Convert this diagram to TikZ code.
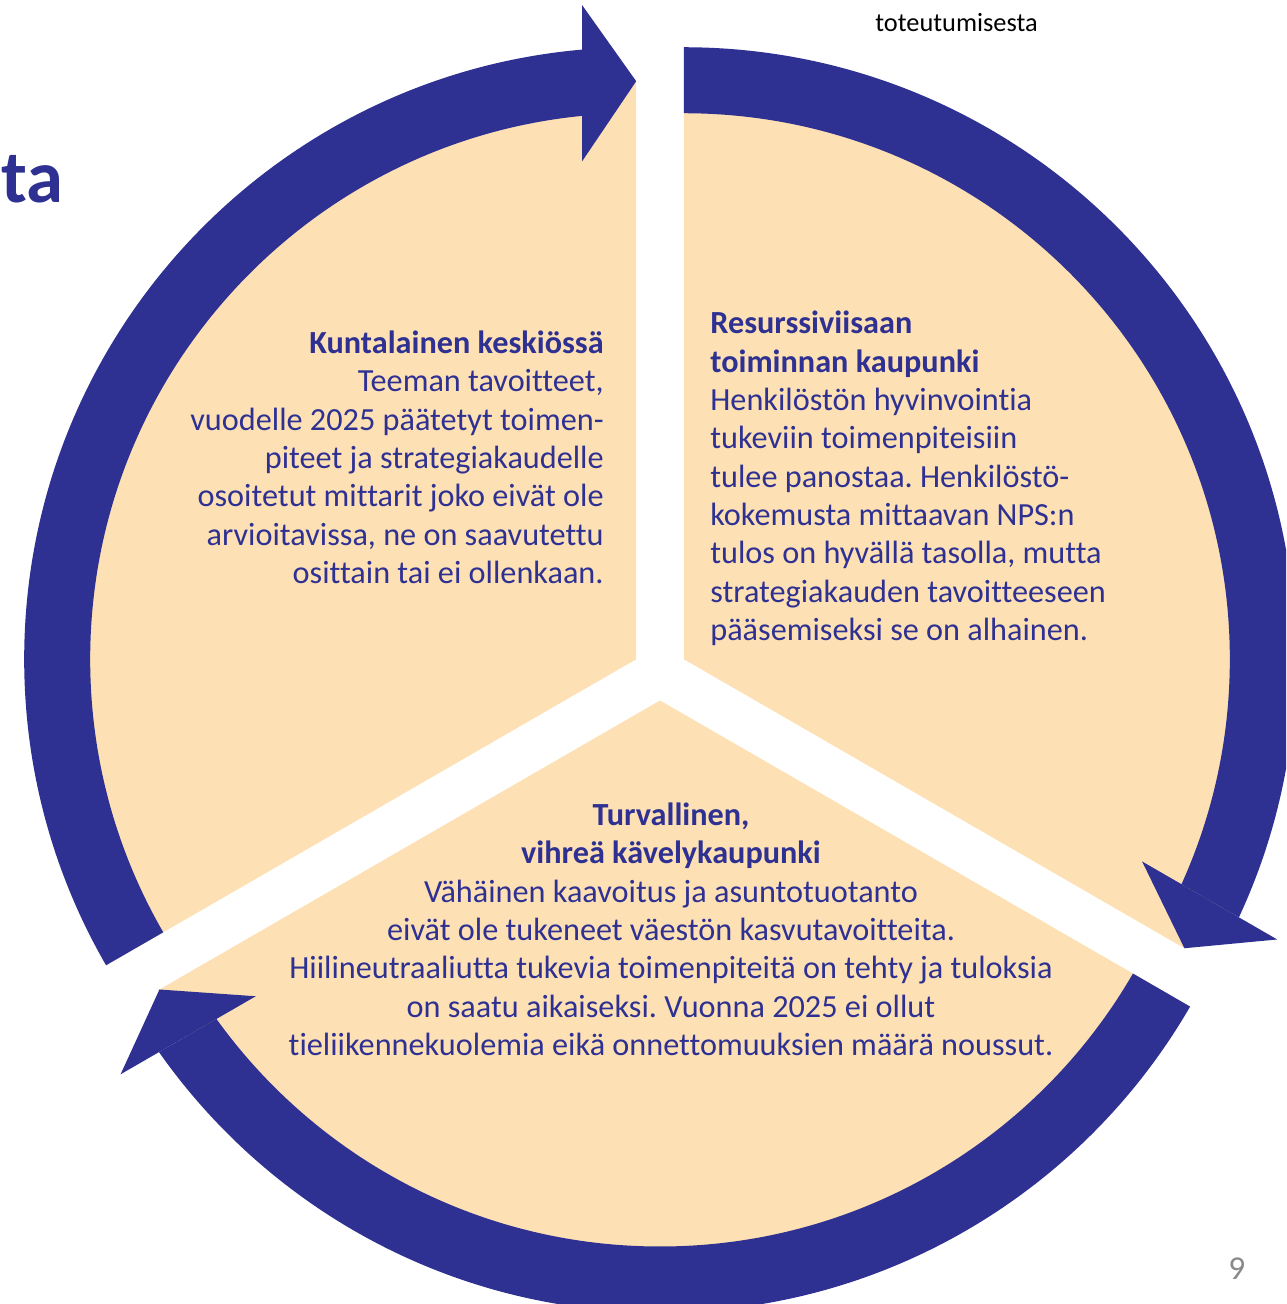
\documentclass[tikz,border=0pt]{standalone}
\usepackage{fontspec}
\setmainfont{Carlito}[Ligatures=CommonOff]
\definecolor{ringblue}{RGB}{46,49,146}
\definecolor{peach}{RGB}{253,224,180}
\definecolor{txtblue}{RGB}{46,49,146}
\definecolor{pagegray}{RGB}{137,137,137}
\frenchspacing
\begin{document}
\frenchspacing
\begin{tikzpicture}[x=0.02cm,y=0.02cm,
  body/.style={font=\fontsize{18.35}{21.83}\selectfont\frenchspacing, text=txtblue, inner sep=0pt},
  sectorframe/.style={shift={(660,631)}, shift={(#1:27.5)}},
]
\useasboundingbox (0,0) rectangle (1286,1304);
\clip (0,0) rectangle (1286,1304);
% exploded pie: three sectors
\foreach \b in {150,30,270} {
  \begin{scope}[sectorframe=\b]
    \fill[peach] (0,0) -- ({\b-60}:579) arc[start angle={\b-60}, end angle={\b+60}, radius=579] -- cycle;
  \end{scope}
}
% circular arrows, one per sector (clockwise)
\foreach \b in {150,30,270} {
  \begin{scope}[sectorframe=\b]
    \begin{scope}
      \clip[rotate={\b+60}] (-2000,0) rectangle (2000,-2000);
      \clip[rotate={\b-60}] (-2000,54) rectangle (2000,2000);
      \fill[ringblue, even odd rule] (0,0) circle (612) (0,0) circle (546);
    \end{scope}
    \fill[ringblue, rotate={\b-60}] (578,0) -- (498,54) -- (654,54) -- cycle;
  \end{scope}
}
% texts
\node[body, anchor=base east, align=right] (kunta) at (604,720.5)
  {\textbf{Kuntalainen keskiössä}\\Teeman tavoitteet,\\vuodelle 2025 päätetyt toimen-\\piteet ja strategiakaudelle\\osoitetut mittarit joko eivät ole\\arvioitavissa, ne on saavutettu\\osittain tai ei ollenkaan.};
\node[body, anchor=base west, align=left] (resurssi) at (710,663.5)
  {\textbf{Resurssiviisaan}\\\textbf{toiminnan kaupunki}\\Henkilöstön hyvinvointia\\tukeviin toimenpiteisiin\\tulee panostaa. Henkilöstö-\\kokemusta mittaavan NPS:n\\tulos on hyvällä tasolla, mutta\\strategiakauden tavoitteeseen\\pääsemiseksi se on alhainen.};
\node[body, anchor=base, align=center] (turva) at (671,248.5)
  {\textbf{Turvallinen,}\\\textbf{vihreä kävelykaupunki}\\Vähäinen kaavoitus ja asuntotuotanto\\eivät ole tukeneet väestön kasvutavoitteita.\\Hiilineutraaliutta tukevia toimenpiteitä on tehty ja tuloksia\\on saatu aikaiseksi. Vuonna 2025 ei ollut\\tieliikennekuolemia eikä onnettomuuksien määrä noussut.};
\node[font=\fontsize{42.5}{50}\selectfont\bfseries, text=txtblue, inner sep=0pt, anchor=base east] (title) at (64,1101) {ta};
\node[font=\fontsize{15}{18}\selectfont, text=black, inner sep=0pt, anchor=base west] (toteut) at (875,1272.3) {toteutumisesta};
\node[font=\fontsize{19}{22}\selectfont, text=pagegray, inner sep=0pt, anchor=base west] (pagenum) at (1228,24) {9};
\end{tikzpicture}
\end{document}
